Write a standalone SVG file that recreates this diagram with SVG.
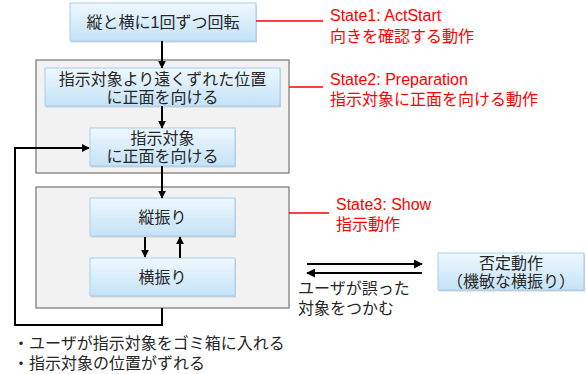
<svg xmlns="http://www.w3.org/2000/svg" width="586" height="374" viewBox="0 0 586 374">
<defs>
<linearGradient id="bg" x1="0" y1="0" x2="0" y2="1">
<stop offset="0" stop-color="#eef8fe"/>
<stop offset="1" stop-color="#c4e2f7"/>
</linearGradient>
<marker id="ah" viewBox="0 0 10 10" refX="9" refY="5" markerWidth="8" markerHeight="8" markerUnits="userSpaceOnUse" orient="auto">
<path d="M0,0 L10,5 L0,10 z" fill="#000"/>
</marker>
<marker id="ahb" viewBox="0 0 10 10" refX="9" refY="5" markerWidth="9" markerHeight="9" markerUnits="userSpaceOnUse" orient="auto">
<path d="M0,0 L10,5 L0,10 z" fill="#000"/>
</marker>
</defs>
<style>
.grp{fill:#f2f2f2;stroke:#7f7f7f;stroke-width:1.3}
.box{fill:url(#bg);stroke:#a7cdec;stroke-width:1}
.sh{fill:#d0d0d0}
text{font-family:"Liberation Sans","Noto Sans CJK JP",sans-serif;font-size:16px;fill:#262626}
.c{text-anchor:middle}
.red{fill:#ff0000}
.rl{stroke:#ff0000;stroke-width:1.5;fill:none}
.ln{stroke:#000;stroke-width:2;fill:none}
</style>
<rect width="586" height="374" fill="#fff"/>

<g id="state2-group"><rect class="grp" x="36" y="60" width="253" height="113"/></g>
<g id="state3-group"><rect class="grp" x="36" y="187" width="253" height="121"/></g>

<g id="n1">
<rect class="sh" x="71" y="4.5" width="186" height="38"/>
<rect class="box" x="70" y="3" width="186" height="38"/>
<text class="c" x="163" y="28">縦と横に1回ずつ回転</text>
</g>
<g id="n2">
<rect class="sh" x="46" y="69.5" width="235" height="38"/>
<rect class="box" x="45" y="68" width="235" height="38"/>
<text class="c" x="162.5" y="85">指示対象より遠くずれた位置</text>
<text class="c" x="162.5" y="103">に正面を向ける</text>
</g>
<g id="n3">
<rect class="sh" x="91" y="129.5" width="145" height="38"/>
<rect class="box" x="90" y="128" width="145" height="38"/>
<text class="c" x="162.5" y="144">指示対象</text>
<text class="c" x="162.5" y="162">に正面を向ける</text>
</g>
<g id="n4">
<rect class="sh" x="91" y="199.5" width="145" height="38"/>
<rect class="box" x="90" y="198" width="145" height="38"/>
<text class="c" x="162.5" y="223">縦振り</text>
</g>
<g id="n5">
<rect class="sh" x="91" y="259.5" width="145" height="38"/>
<rect class="box" x="90" y="258" width="145" height="38"/>
<text class="c" x="162.5" y="283">横振り</text>
</g>
<g id="n6">
<rect class="sh" x="439" y="254.5" width="146" height="37"/>
<rect class="box" x="438" y="253" width="146" height="37"/>
<text class="c" x="511" y="269">否定動作</text>
<text class="c" x="511" y="287">（機敏な横振り）</text>
</g>

<g id="connectors">
<line class="ln" x1="162" y1="41" x2="162" y2="68" marker-end="url(#ah)"/>
<line class="ln" x1="162" y1="106" x2="162" y2="128" marker-end="url(#ah)"/>
<line class="ln" x1="162" y1="166" x2="162" y2="198" marker-end="url(#ah)"/>
<line class="ln" x1="145" y1="237" x2="145" y2="257" marker-end="url(#ah)"/>
<line class="ln" x1="180" y1="258" x2="180" y2="237" marker-end="url(#ah)"/>
<polyline class="ln" points="162,308 162,325 15,325 15,148 89,148" marker-end="url(#ah)"/>
<line class="ln" x1="307" y1="264" x2="422" y2="264" marker-end="url(#ahb)"/>
<line class="ln" x1="422" y1="273" x2="307" y2="273" marker-end="url(#ahb)"/>
<line class="rl" x1="256" y1="21" x2="323" y2="21"/>
<line class="rl" x1="289" y1="87" x2="323" y2="87"/>
<line class="rl" x1="289" y1="213" x2="329" y2="213"/>
</g>

<g id="labels">
<text class="red" x="330" y="21">State1: ActStart</text>
<text class="red" x="330" y="42">向きを確認する動作</text>
<text class="red" x="330" y="85">State2: Preparation</text>
<text class="red" x="330" y="105">指示対象に正面を向ける動作</text>
<text class="red" x="336" y="210">State3: Show</text>
<text class="red" x="336" y="230">指示動作</text>
<text x="298" y="294">ユーザが誤った</text>
<text x="298" y="314">対象をつかむ</text>
<text x="13" y="349">・ユーザが指示対象をゴミ箱に入れる</text>
<text x="13" y="369">・指示対象の位置がずれる</text>
</g>
</svg>
